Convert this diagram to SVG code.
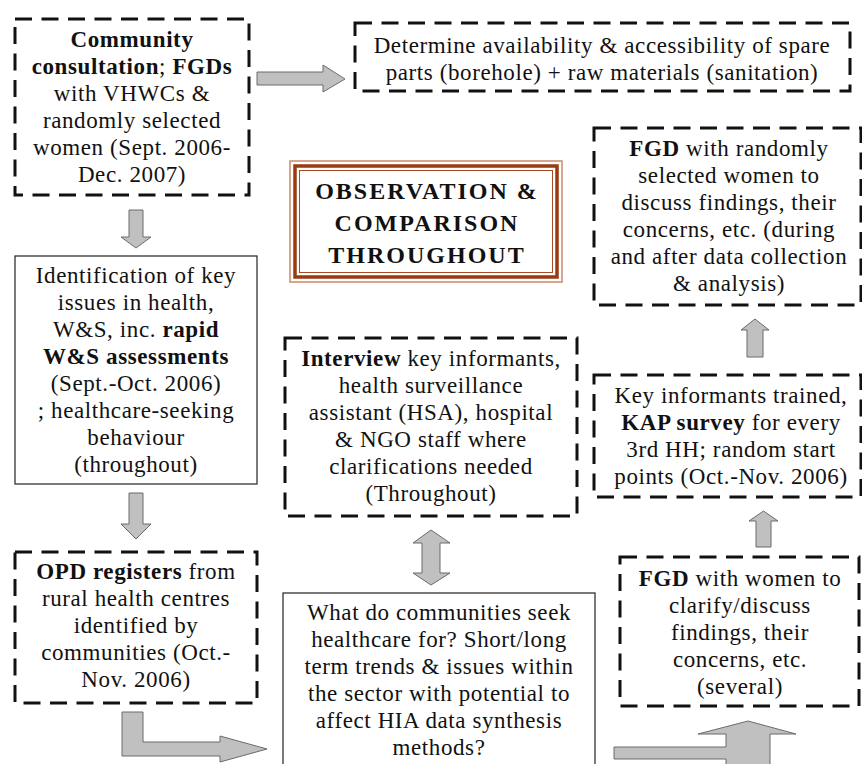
<svg xmlns="http://www.w3.org/2000/svg" width="862" height="764" viewBox="0 0 862 764">
<style>
.dash{fill:#fff;stroke:#111;stroke-width:3;stroke-dasharray:17 9.5}
.solid{fill:#fff;stroke:#222;stroke-width:1.2}
.t{font-family:"Liberation Serif","Times New Roman",serif;font-size:23px;letter-spacing:0.6px;text-anchor:middle;fill:#111}
.b{font-weight:bold}
.ttl{font-family:"Liberation Serif","Times New Roman",serif;font-size:24px;font-weight:bold;letter-spacing:2px;text-anchor:middle;fill:#111}
.arr{fill:#c0c0c0;stroke:#6b6b6b;stroke-width:1;stroke-linejoin:miter}
</style>
<rect width="862" height="764" fill="#fff"/>
<g id="connectors">
<polygon class="arr" points="257,72 323,72 323,65 345,79 323,92 323,85 257,85"/>
<polygon class="arr" points="129,210 143,210 143,237 151,237 136,248 121,237 129,237"/>
<polygon class="arr" points="129,493 143,493 143,524 151,524 136,539 121,524 129,524"/>
<polygon class="arr" points="122,712 143,712 143,742 220,742 220,736 267,749 220,762 220,756 122,756"/>
<polygon class="arr" points="431,530 450,543 440,543 440,573 450,573 431,585 413,573 422,573 422,543 413,543"/>
<polygon class="arr" points="755,319 769,330 763,330 763,357 747,357 747,330 741,330"/>
<polygon class="arr" points="763.5,511 778,521 771,521 771,547 756,547 756,521 749,521"/>
<polygon class="arr" points="614,747 726,747 726,734 698,734 748,721 796,734 770,734 770,770 726,770 726,759 614,759"/>
</g>
<g id="community-consultation">
<rect class="dash" x="15" y="19" width="234" height="176"/>
<text class="t" x="132" y="47"><tspan class="b">Community</tspan></text>
<text class="t" x="132" y="74"><tspan class="b">consultation</tspan>; <tspan class="b">FGDs</tspan></text>
<text class="t" x="132" y="101">with VHWCs &amp;</text>
<text class="t" x="132" y="128">randomly selected</text>
<text class="t" x="132" y="155">women (Sept. 2006-</text>
<text class="t" x="132" y="182">Dec. 2007)</text>
</g>
<g id="spare-parts">
<rect class="dash" x="355" y="23" width="495" height="68"/>
<text class="t" x="602" y="53">Determine availability &amp; accessibility of spare</text>
<text class="t" x="602" y="80">parts (borehole) + raw materials (sanitation)</text>
</g>
<g id="observation">
<rect x="290" y="161" width="272" height="121" fill="#fff" stroke="#c98a6a" stroke-width="1.5"/>
<rect x="295" y="166" width="262" height="111" fill="none" stroke="#9a3a10" stroke-width="3.5"/>
<rect x="299.5" y="170.5" width="253" height="102" fill="none" stroke="#a84a20" stroke-width="1"/>
<text class="ttl" x="427" y="199">OBSERVATION &amp;</text>
<text class="ttl" x="427" y="231">COMPARISON</text>
<text class="ttl" x="427" y="263">THROUGHOUT</text>
</g>
<g id="fgd-random">
<rect class="dash" x="594" y="128" width="267" height="177"/>
<text class="t" x="729" y="156"><tspan class="b">FGD</tspan> with randomly</text>
<text class="t" x="729" y="183">selected women to</text>
<text class="t" x="729" y="210">discuss findings, their</text>
<text class="t" x="729" y="237">concerns, etc. (during</text>
<text class="t" x="729" y="264">and after data collection</text>
<text class="t" x="729" y="291">&amp; analysis)</text>
</g>
<g id="key-issues">
<rect class="solid" x="15" y="256" width="242" height="228"/>
<text class="t" x="136" y="283">Identification of key</text>
<text class="t" x="136" y="310">issues in health,</text>
<text class="t" x="136" y="337">W&amp;S, inc. <tspan class="b">rapid</tspan></text>
<text class="t" x="136" y="364"><tspan class="b">W&amp;S assessments</tspan></text>
<text class="t" x="136" y="391">(Sept.-Oct. 2006)</text>
<text class="t" x="136" y="418">; healthcare-seeking</text>
<text class="t" x="136" y="445">behaviour</text>
<text class="t" x="136" y="472">(throughout)</text>
</g>
<g id="interview">
<rect class="dash" x="285" y="338" width="292" height="178"/>
<text class="t" x="431" y="366"><tspan class="b">Interview</tspan> key informants,</text>
<text class="t" x="431" y="393">health surveillance</text>
<text class="t" x="431" y="420">assistant (HSA), hospital</text>
<text class="t" x="431" y="447">&amp; NGO staff where</text>
<text class="t" x="431" y="474">clarifications needed</text>
<text class="t" x="431" y="501">(Throughout)</text>
</g>
<g id="kap-survey">
<rect class="dash" x="594" y="375" width="267" height="122"/>
<text class="t" x="731" y="403">Key informants trained,</text>
<text class="t" x="731" y="430"><tspan class="b">KAP survey</tspan> for every</text>
<text class="t" x="731" y="457">3rd HH; random start</text>
<text class="t" x="731" y="484">points (Oct.-Nov. 2006)</text>
</g>
<g id="opd-registers">
<rect class="dash" x="15" y="552" width="242" height="151"/>
<text class="t" x="136" y="579"><tspan class="b">OPD registers</tspan> from</text>
<text class="t" x="136" y="606">rural health centres</text>
<text class="t" x="136" y="633">identified by</text>
<text class="t" x="136" y="660">communities (Oct.-</text>
<text class="t" x="136" y="687">Nov. 2006)</text>
</g>
<g id="healthcare-question">
<rect class="solid" x="283" y="593" width="312" height="200"/>
<text class="t" x="439" y="620">What do communities seek</text>
<text class="t" x="439" y="647">healthcare for? Short/long</text>
<text class="t" x="439" y="674">term trends &amp; issues within</text>
<text class="t" x="439" y="701">the sector with potential to</text>
<text class="t" x="439" y="728">affect HIA data synthesis</text>
<text class="t" x="439" y="755">methods?</text>
</g>
<g id="fgd-women">
<rect class="dash" x="620" y="557" width="239" height="149"/>
<text class="t" x="740" y="586"><tspan class="b">FGD</tspan> with women to</text>
<text class="t" x="740" y="613">clarify/discuss</text>
<text class="t" x="740" y="640">findings, their</text>
<text class="t" x="740" y="667">concerns, etc.</text>
<text class="t" x="740" y="694">(several)</text>
</g>
</svg>
